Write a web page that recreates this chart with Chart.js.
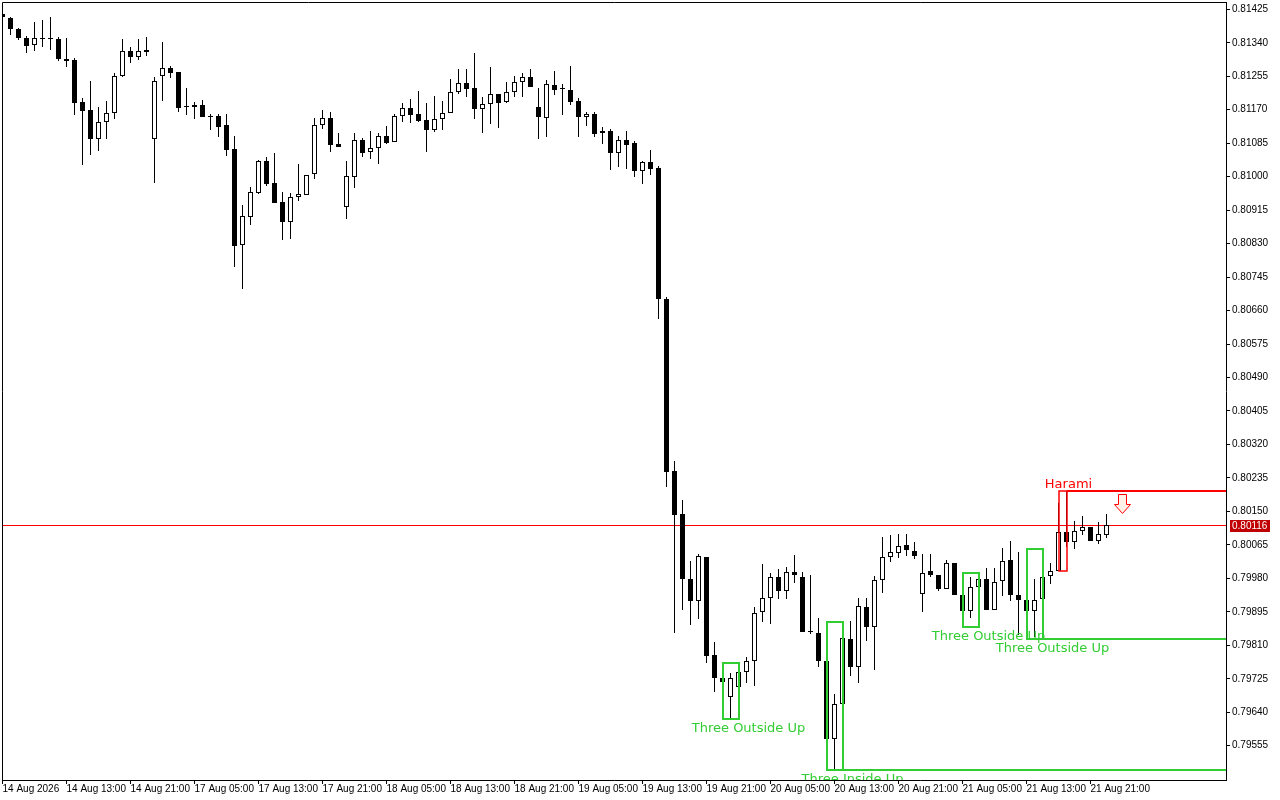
<!DOCTYPE html>
<html>
<head>
<meta charset="utf-8">
<title>Hourly candles</title>
<script src="https://cdn.jsdelivr.net/npm/chart.js@4/dist/chart.umd.min.js"></script>
<style>
  html, body { margin: 0; padding: 0; background: #ffffff; }
  #wrap { width: 1280px; height: 800px; position: relative; }
</style>
</head>
<body>
<div id="wrap"><canvas id="chart" width="1280" height="800"></canvas></div>
<script>
// Hourly OHLC bars, oldest first (bar 0 = 14 Aug 05:00, last = 21 Aug 23:00)
const OPEN = [
  0.81413,0.81404,0.81374,0.81353,0.81334,0.81349,0.81349,0.81350,0.81298,0.81296,
  0.81190,0.81169,0.81096,0.81138,0.81161,0.81255,0.81318,0.81305,0.81321,0.81095,
  0.81256,0.81275,0.81266,0.81176,0.81176,0.81182,0.81154,0.81154,0.81131,0.81070,
  0.80826,0.80897,0.80959,0.81040,0.80984,0.80936,0.80886,0.80948,0.80954,0.81006,
  0.81130,0.81149,0.81082,0.80924,0.81000,0.81093,0.81062,0.81072,0.81103,0.81087,
  0.81153,0.81174,0.81158,0.81143,0.81119,0.81146,0.81161,0.81214,0.81237,0.81224,
  0.81173,0.81184,0.81209,0.81189,0.81214,0.81240,0.81252,0.81176,0.81148,0.81232,
  0.81222,0.81220,0.81192,0.81152,0.81159,0.81115,0.81116,0.81061,0.81093,0.81086,
  0.81015,0.81037,0.81022,0.80689,0.80253,0.80143,0.79978,0.79923,0.80034,0.79785,
  0.79728,0.79679,0.79705,0.79741,0.79769,0.79894,0.79929,0.79983,0.79947,0.79995,
  0.79983,0.79843,0.79840,0.79769,0.79571,0.79660,0.79826,0.79756,0.79906,0.79856,
  0.79975,0.80033,0.80044,0.80065,0.80049,0.79940,0.79998,0.79988,0.79954,0.80018,
  0.79937,0.79896,0.79957,0.79978,0.79899,0.79972,0.80026,0.79937,0.79924,0.79896,
  0.79927,0.79985,0.79998,0.80097,0.80072,0.80099,0.80110,0.80074,0.80089
];
const HIGH = [
  0.81418,0.81405,0.81378,0.81358,0.81392,0.81398,0.81405,0.81355,0.81352,0.81301,
  0.81200,0.81243,0.81177,0.81192,0.81263,0.81350,0.81330,0.81350,0.81355,0.81253,
  0.81342,0.81281,0.81266,0.81225,0.81190,0.81195,0.81159,0.81159,0.81159,0.81103,
  0.80928,0.80974,0.81042,0.81051,0.81060,0.80961,0.80959,0.81032,0.81003,0.81149,
  0.81169,0.81164,0.81111,0.81040,0.81111,0.81099,0.81116,0.81110,0.81128,0.81158,
  0.81186,0.81196,0.81217,0.81186,0.81204,0.81191,0.81247,0.81273,0.81273,0.81313,
  0.81202,0.81278,0.81209,0.81240,0.81256,0.81262,0.81273,0.81224,0.81245,0.81268,
  0.81235,0.81281,0.81199,0.81165,0.81164,0.81126,0.81120,0.81103,0.81116,0.81090,
  0.81041,0.81068,0.81027,0.80695,0.80278,0.80179,0.80024,0.80042,0.80034,0.79818,
  0.79757,0.79739,0.79766,0.79781,0.79908,0.80016,0.79993,0.80003,0.80008,0.80039,
  0.79995,0.79988,0.79879,0.79784,0.79686,0.79870,0.79872,0.79929,0.79929,0.79986,
  0.80084,0.80090,0.80092,0.80092,0.80072,0.80041,0.80041,0.79988,0.80026,0.80018,
  0.79937,0.79983,0.79993,0.80006,0.80006,0.80056,0.80074,0.80048,0.79924,0.79979,
  0.80054,0.80018,0.80171,0.80203,0.80125,0.80138,0.80110,0.80122,0.80143
];
const LOW = [
  0.81400,0.81361,0.81346,0.81315,0.81320,0.81330,0.81322,0.81294,0.81279,0.81157,
  0.81030,0.81055,0.81066,0.81096,0.81146,0.81254,0.81289,0.81296,0.81306,0.80985,
  0.81193,0.81251,0.81165,0.81157,0.81146,0.81152,0.81119,0.81101,0.81053,0.80771,
  0.80716,0.80876,0.80957,0.80976,0.80934,0.80839,0.80842,0.80937,0.80954,0.80995,
  0.81122,0.81063,0.81076,0.80893,0.80972,0.81049,0.81046,0.81033,0.81083,0.81087,
  0.81140,0.81137,0.81140,0.81063,0.81114,0.81119,0.81161,0.81211,0.81203,0.81147,
  0.81112,0.81135,0.81124,0.81186,0.81202,0.81203,0.81227,0.81096,0.81101,0.81208,
  0.81157,0.81183,0.81101,0.81129,0.81101,0.81084,0.81018,0.81025,0.81020,0.81000,
  0.80982,0.81005,0.80639,0.80213,0.79840,0.79900,0.79862,0.79877,0.79766,0.79692,
  0.79696,0.79623,0.79692,0.79715,0.79707,0.79870,0.79863,0.79927,0.79927,0.79967,
  0.79843,0.79838,0.79756,0.79495,0.79493,0.79644,0.79733,0.79714,0.79822,0.79747,
  0.79942,0.80021,0.80031,0.80036,0.80028,0.79894,0.79983,0.79949,0.79954,0.79937,
  0.79856,0.79880,0.79950,0.79899,0.79899,0.79934,0.79922,0.79835,0.79825,0.79830,
  0.79895,0.79966,0.79998,0.80060,0.80055,0.80089,0.80074,0.80066,0.80082
];
const CLOSE = [
  0.81405,0.81376,0.81353,0.81333,0.81351,0.81349,0.81349,0.81300,0.81294,0.81188,
  0.81168,0.81096,0.81138,0.81161,0.81255,0.81318,0.81305,0.81318,0.81317,0.81243,
  0.81275,0.81264,0.81175,0.81176,0.81182,0.81152,0.81151,0.81127,0.81068,0.80825,
  0.80899,0.80960,0.81040,0.80982,0.80934,0.80886,0.80948,0.80955,0.81003,0.81130,
  0.81149,0.81081,0.81076,0.81001,0.81093,0.81061,0.81072,0.81103,0.81086,0.81153,
  0.81174,0.81157,0.81141,0.81119,0.81146,0.81161,0.81214,0.81237,0.81223,0.81173,
  0.81184,0.81209,0.81186,0.81214,0.81240,0.81252,0.81228,0.81152,0.81235,0.81221,
  0.81222,0.81190,0.81152,0.81159,0.81109,0.81112,0.81061,0.81093,0.81081,0.81015,
  0.81037,0.81020,0.80690,0.80251,0.80141,0.79979,0.79923,0.80037,0.79784,0.79726,
  0.79718,0.79726,0.79741,0.79771,0.79891,0.79929,0.79983,0.79947,0.79995,0.79988,
  0.79843,0.79843,0.79769,0.79571,0.79660,0.79828,0.79756,0.79909,0.79856,0.79975,
  0.80033,0.80046,0.80061,0.80051,0.80036,0.79993,0.79988,0.79954,0.80018,0.79937,
  0.79896,0.79957,0.79978,0.79899,0.79970,0.80023,0.79937,0.79924,0.79898,0.79926,
  0.79984,0.79998,0.80097,0.80072,0.80099,0.80110,0.80074,0.80092,0.80116
];

// Time axis: a label every 8 bars
const TIME_TICK_BARS = [0, 8, 16, 24, 32, 40, 48, 56, 64, 72, 80, 88, 96, 104, 112, 120, 128, 136];
const TIME_LABELS = [
  '14 Aug 2026', '14 Aug 13:00', '14 Aug 21:00', '17 Aug 05:00', '17 Aug 13:00', '17 Aug 21:00',
  '18 Aug 05:00', '18 Aug 13:00', '18 Aug 21:00', '19 Aug 05:00', '19 Aug 13:00', '19 Aug 21:00',
  '20 Aug 05:00', '20 Aug 13:00', '20 Aug 21:00', '21 Aug 05:00', '21 Aug 13:00', '21 Aug 21:00'
];

// Price axis labels
const PRICE_TICKS = [
  0.81425, 0.81340, 0.81255, 0.81170, 0.81085, 0.81000, 0.80915, 0.80830, 0.80745, 0.80660, 0.80575, 0.80490,
  0.80405, 0.80320, 0.80235, 0.80150, 0.80065, 0.79980, 0.79895, 0.79810, 0.79725, 0.79640, 0.79555
];

// Detected candlestick patterns (first bar, last bar, bar the caption sits on)
const PATTERN_NAMES   = ['Three Outside Up', 'Three Inside Up', 'Three Outside Up', 'Three Outside Up', 'Harami'];
const PATTERN_FIRST   = [90, 103, 120, 128, 132];
const PATTERN_LAST    = [92, 105, 122, 130, 133];
const PATTERN_CAPTION = [93, 106, 123, 131, 133];
const PATTERN_BULLISH = [true, true, true, true, false];
const PATTERN_LEVEL   = [false, true, false, true, true];

// Sell signal arrow bar (drawn under the Harami level)
const SIGNAL_BAR = 140;

const GREEN = '#32cd32';
const RED = '#ff0000';

const bars = OPEN.map((_, i) => i);
const wickData = bars.map(i => ({ x: i, y: [LOW[i], HIGH[i]] }));
const bodyData = bars.map(i => ({ x: i, y: [OPEN[i], CLOSE[i]] }));

const overlay = {
  id: 'overlay',
  beforeDatasetsDraw(chart) {
    // snap candle rectangles to whole pixels
    chart.data.datasets.forEach((ds, di) => {
      chart.getDatasetMeta(di).data.forEach(el => {
        const a = Math.round(el.y);
        let b = Math.round(el.base);
        if (a === b) b = a + 1;
        el.y = a;
        el.base = b;
        el.x = Math.floor(el.x) + 0.5;
      });
    });
    // bid line behind the candles
    const { ctx, chartArea: area, scales: { y } } = chart;
    const py = Math.round(y.getPixelForValue(CLOSE[CLOSE.length - 1]));
    ctx.save();
    ctx.fillStyle = '#ff0000';
    ctx.fillRect(area.left, py, area.right - area.left, 1);
    ctx.restore();
  },
  afterDatasetsDraw(chart) {
    const { ctx, chartArea: area, scales: { x, y } } = chart;
    ctx.save();
    ctx.beginPath();
    ctx.rect(area.left, area.top, area.right - area.left, area.bottom - area.top);
    ctx.clip();

    PATTERN_NAMES.forEach((name, k) => {
      const first = PATTERN_FIRST[k], last = PATTERN_LAST[k];
      let hi = -Infinity, lo = Infinity;
      for (let i = first; i <= last; i++) { hi = Math.max(hi, HIGH[i]); lo = Math.min(lo, LOW[i]); }
      const color = PATTERN_BULLISH[k] ? GREEN : RED;
      const x1 = Math.round(x.getPixelForValue(first));
      const x2 = Math.round(x.getPixelForValue(last));
      const yt = Math.round(y.getPixelForValue(hi));
      const yb = Math.round(y.getPixelForValue(lo));
      ctx.strokeStyle = color;
      ctx.lineWidth = PATTERN_BULLISH[k] ? 2 : 1.5;
      ctx.strokeRect(x1, yt, x2 - x1, yb - yt);
      if (PATTERN_LEVEL[k]) {
        const ly = PATTERN_BULLISH[k] ? yb : yt;
        ctx.lineWidth = 2;
        ctx.beginPath();
        ctx.moveTo(x2, ly);
        ctx.lineTo(area.right, ly);
        ctx.stroke();
      }
      ctx.fillStyle = color;
      ctx.font = '13px "DejaVu Sans"';
      ctx.textAlign = 'center';
      ctx.textBaseline = 'middle';
      const cx = x.getPixelForValue(PATTERN_CAPTION[k]) + 2;
      const cy = PATTERN_BULLISH[k] ? yb + 10 : yt - 6.5;
      ctx.fillText(name, cx, cy);
    });

    // hollow sell arrow under the Harami high
    const hk = PATTERN_BULLISH.indexOf(false);
    let hh = -Infinity;
    for (let i = PATTERN_FIRST[hk]; i <= PATTERN_LAST[hk]; i++) hh = Math.max(hh, HIGH[i]);
    const ax = Math.floor(x.getPixelForValue(SIGNAL_BAR)) + 0.5;
    const ay = Math.round(y.getPixelForValue(hh)) + 3.5;
    ctx.beginPath();
    ctx.moveTo(ax - 4, ay);
    ctx.lineTo(ax + 4, ay);
    ctx.lineTo(ax + 4, ay + 10);
    ctx.lineTo(ax + 8, ay + 10);
    ctx.lineTo(ax, ay + 19);
    ctx.lineTo(ax - 8, ay + 10);
    ctx.lineTo(ax - 4, ay + 10);
    ctx.closePath();
    ctx.fillStyle = '#fff0e8';
    ctx.fill();
    ctx.strokeStyle = RED;
    ctx.lineWidth = 1;
    ctx.stroke();
    ctx.restore();
  },
  afterDraw(chart) {
    const { ctx, chartArea: area, scales: { y } } = chart;
    ctx.save();
    // frame on the top and left sides
    ctx.strokeStyle = '#000';
    ctx.lineWidth = 1;
    ctx.beginPath();
    ctx.moveTo(area.left + 0.5, area.bottom);
    ctx.lineTo(area.left + 0.5, area.top + 0.5);
    ctx.lineTo(area.right, area.top + 0.5);
    ctx.stroke();
    // last price tag on the price axis
    const last = CLOSE[CLOSE.length - 1];
    const py = Math.round(y.getPixelForValue(last));
    ctx.fillStyle = '#c00000';
    ctx.fillRect(area.right + 4, py - 5, 40, 12);
    ctx.fillStyle = '#ffffff';
    ctx.font = '10px "Liberation Sans"';
    ctx.textAlign = 'left';
    ctx.textBaseline = 'middle';
    ctx.fillText(last.toFixed(5), area.right + 6, py + 1);
    ctx.restore();
  }
};

Chart.defaults.font.family = '"Liberation Sans", Arial, sans-serif';
Chart.defaults.font.size = 10;
Chart.defaults.color = '#000';

new Chart(document.getElementById('chart'), {
  type: 'bar',
  data: {
    datasets: [
      {
        label: 'wick',
        data: wickData,
        backgroundColor: '#000',
        borderWidth: 0,
        barThickness: 1,
        inflateAmount: 0,
        grouped: false,
        order: 2
      },
      {
        label: 'body',
        data: bodyData,
        backgroundColor: ctx => (CLOSE[ctx.dataIndex] >= OPEN[ctx.dataIndex] ? '#ffffff' : '#000000'),
        borderColor: '#000',
        borderWidth: 1,
        borderSkipped: false,
        barThickness: 5,
        minBarLength: 1,
        inflateAmount: 0,
        grouped: false,
        order: 1
      }
    ]
  },
  options: {
    responsive: false,
    animation: false,
    devicePixelRatio: 1,
    layout: { padding: { left: 2, top: 2, right: 0, bottom: 0 } },
    plugins: { legend: { display: false }, tooltip: { enabled: false } },
    events: [],
    scales: {
      x: {
        type: 'linear',
        position: 'bottom',
        min: -0.0625,
        max: 152.9375,
        offset: false,
        grid: { display: true, drawOnChartArea: false, drawTicks: true, tickLength: 4, color: '#000', offset: false },
        border: { display: true, color: '#000' },
        ticks: {
          autoSkip: false,
          maxRotation: 0,
          minRotation: 0,
          align: 'start',
          padding: -1,
          color: '#000',
          font: { family: '"Liberation Sans"', size: 10 },
          callback: value => {
            const k = TIME_TICK_BARS.indexOf(value);
            return k >= 0 ? TIME_LABELS[k] : '';
          }
        },
        afterBuildTicks: scale => { scale.ticks = TIME_TICK_BARS.map(v => ({ value: v })); },
        afterFit: scale => { scale.height = 20; scale.paddingLeft = 0; scale.paddingRight = 0; }
      },
      y: {
        type: 'linear',
        position: 'right',
        min: 0.794679,
        max: 0.8144354,
        grid: { display: true, drawOnChartArea: false, drawTicks: true, tickLength: 4, color: '#000' },
        border: { display: true, color: '#000' },
        ticks: {
          autoSkip: false,
          padding: 2,
          color: '#000',
          crossAlign: 'near',
          font: { family: '"Liberation Sans"', size: 10 },
          callback: value => Number(value).toFixed(5)
        },
        afterBuildTicks: scale => { scale.ticks = PRICE_TICKS.map(v => ({ value: v })); },
        afterFit: scale => { scale.width = 54; scale.paddingTop = 0; scale.paddingBottom = 0; }
      }
    }
  },
  plugins: [overlay]
});
</script>
</body>
</html>
